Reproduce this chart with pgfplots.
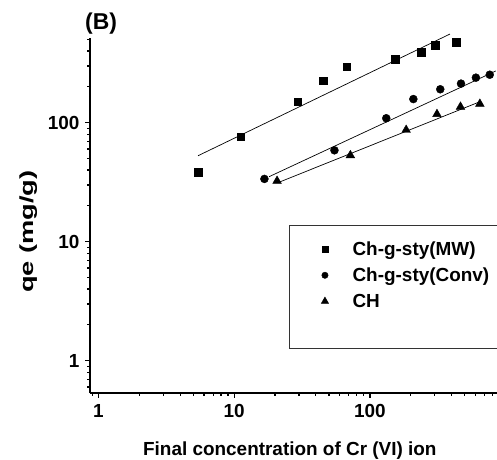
\documentclass[border=0pt]{standalone}
\usepackage{fontspec}
\setmainfont{Liberation Sans}
\usepackage{graphicx}
\usepackage{pgfplots}
\pgfplotsset{compat=1.18}
\begin{document}
\begin{tikzpicture}
\path[use as bounding box] (-90bp,-67bp) rectangle (407bp,393bp);
\begin{axis}[
  at={(0,0)}, anchor=south west,
  scale only axis, width=407bp, height=354.7bp,
  xmode=log, ymode=log,
  xmin=0.866, xmax=864, ymin=0.535, ymax=512,
  axis x line*=bottom, axis y line*=left,
  axis line style={line width=1.5pt},
  every tick/.style={line width=1.2pt, black},
  tick align=outside,
  major tick length=5bp, minor tick length=3bp,
  xtick={1,10,100}, xticklabels={1,10,100},
  ytick={1,10,100}, yticklabels={1,10,100},
  minor xtick={0.9,2,3,4,5,6,7,8,9,20,30,40,50,60,70,80,90,200,300,400,500,600,700,800},
  minor ytick={0.6,0.7,0.8,0.9,2,3,4,5,6,7,8,9,20,30,40,50,60,70,80,90,200,300,400,500},
  tick label style={font=\fontsize{19}{22}\selectfont\bfseries},
  xticklabel style={yshift=-3bp},
  yticklabel style={xshift=-2bp},
  label style={font=\fontsize{19}{22}\selectfont\bfseries},
  xlabel={Final concentration of Cr (VI) ion},
  xlabel style={at={(rel axis cs:0.491,0)}, anchor=base, yshift=-62bp},
  ylabel={\scalebox{1.44}[1]{qe (mg/g)}},
  ylabel style={at={(rel axis cs:0,0.455)}, anchor=center, yshift=61bp},
  clip=false,
  legend style={at={(rel axis cs:0.5605,0.439)}, anchor=north west, draw=none, fill=none,
    font=\fontsize{19}{22}\selectfont\bfseries, row sep=7bp,
    /tikz/every odd column/.append style={column sep=22bp}},
  legend cell align=left,
]
\addplot[only marks, mark=square*, mark size=3.7bp, forget plot] coordinates {
 (5.42,38.3) (11.2,76.3) (29.5,150) (45.2,225) (67.5,295) (153.6,343) (238,391) (302,447) (433,474)};
\addplot[only marks, mark=*, mark size=4bp, forget plot] coordinates {
 (16.7,33.7) (54.8,58.6) (132,109) (209,158) (330,191) (469,213) (604,239) (764,253)};
\addplot[only marks, mark=triangle*, mark size=5bp, forget plot] coordinates {
 (20.7,32.4) (71.8,53.2) (185,86.9) (312,118) (465,136) (646,144)};
\addplot[black, line width=0.7pt, forget plot] coordinates {(5.42,52.8) (389,556)};
\addplot[black, line width=0.7pt, forget plot] coordinates {(18.1,35.2) (846,272)};
\addplot[black, line width=0.7pt, forget plot] coordinates {(21.7,31.8) (646,150)};
\addlegendimage{only marks, mark=square*, mark size=3bp}
\addlegendentry{Ch-g-sty(MW)}
\addlegendimage{only marks, mark=*, mark size=3.2bp}
\addlegendentry{Ch-g-sty(Conv)}
\addlegendimage{only marks, mark=triangle*, mark size=4.2bp}
\addlegendentry{CH}
\draw[line width=0.7pt, black!80] (rel axis cs:0.4897,0.4736) rectangle (rel axis cs:1.1,0.126);
\node[anchor=base west, inner sep=0pt, font=\fontsize{23}{26}\selectfont\bfseries] at (rel axis cs:0,1) [xshift=-5bp, yshift=8.8bp] {(B)};
\end{axis}
\end{tikzpicture}
\end{document}
